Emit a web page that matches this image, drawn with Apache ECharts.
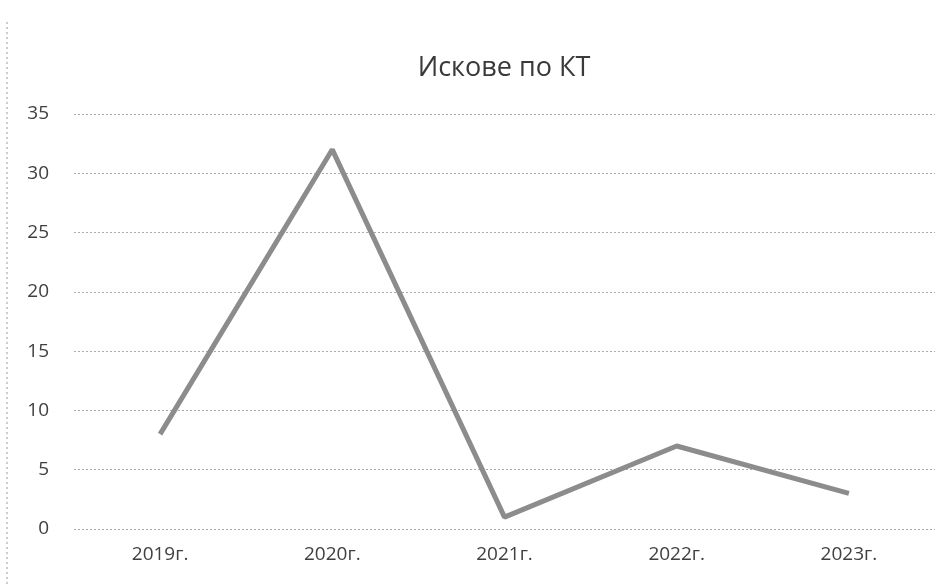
<!DOCTYPE html>
<html>
<head>
<meta charset="utf-8">
<script src="https://cdn.jsdelivr.net/npm/echarts@6/dist/echarts.min.js"></script>
<style>
  html, body { margin: 0; padding: 0; background: #fff; }
  #chart { width: 948px; height: 584px; }
</style>
</head>
<body>
<div id="chart"></div>
<script>
const categories = ['2019г.', '2020г.', '2021г.', '2022г.', '2023г.']
const values = [8, 32, 1, 7, 3]
const yTicks = { min: 0, max: 35, interval: 5 }

const chart = echarts.init(document.getElementById('chart'))

chart.setOption({
  backgroundColor: '#fff',
  animation: false,
  title: {
    text: 'Искове по КТ',
    left: 499,
    top: 50,
    textAlign: 'center',
    textStyle: { fontFamily: 'Open Sans', fontSize: 27, fontWeight: 'normal', color: '#3a3a3a' },
  },
  graphic: [
    {
      type: 'line',
      shape: { x1: 7, y1: 22, x2: 7, y2: 584 },
      style: { stroke: '#999', lineWidth: 1, lineDash: [2, 3] },
    },
  ],
  grid: { left: 74, right: 13, top: 114, bottom: 55 },
  xAxis: {
    type: 'category',
    data: categories,
    boundaryGap: true,
    axisLine: { show: false },
    axisTick: { show: false },
    axisLabel: { fontFamily: 'Open Sans', fontSize: 19, color: '#404040', margin: 16 },
  },
  yAxis: {
    type: 'value',
    min: yTicks.min,
    max: yTicks.max,
    interval: yTicks.interval,
    axisLine: { show: false },
    axisTick: { show: false },
    axisLabel: { fontFamily: 'Open Sans', fontSize: 19, color: '#404040', margin: 25 },
    splitLine: { lineStyle: { color: '#aaa', type: [2, 2], width: 1 } },
  },
  series: [
    {
      type: 'line',
      data: values,
      symbol: 'none',
      lineStyle: { width: 5, color: '#8c8c8c' },
    },
  ],
})
</script>
</body>
</html>
